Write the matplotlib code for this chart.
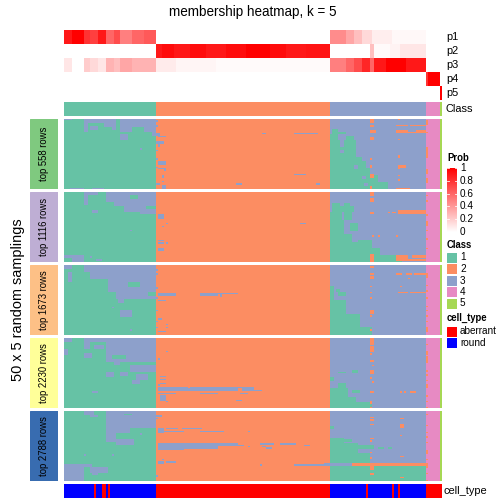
import numpy as np
import matplotlib
matplotlib.use('Agg')
import matplotlib.pyplot as plt
from matplotlib.colors import ListedColormap, LinearSegmentedColormap

plt.rcParams['font.family'] = ['Liberation Sans', 'DejaVu Sans']

# ---------------- data ----------------
title = "membership heatmap, k = 5"
side_title = "50 x 5 random samplings"
classes = [1, 2, 3, 4, 5]
class_sizes = [46, 87, 48, 7, 1]
class_colors = ['#66C2A5', '#FC8D62', '#8DA0CB', '#E78AC3', '#A6D854']
slice_labels = ['top 558 rows', 'top 1116 rows', 'top 1673 rows', 'top 2230 rows', 'top 2788 rows']
slice_colors = ['#7FC97F', '#BEAED4', '#FDC086', '#FFFF99', '#386CB0']
n_samplings = 50
prob_rows = ['p1', 'p2', 'p3', 'p4', 'p5']
prob_ticks = [0, 0.2, 0.4, 0.6, 0.8, 1]
prob_tick_labels = ['0', '0.2', '0.4', '0.6', '0.8', '1']

# membership probabilities as runs of (number of samples, value), samples ordered by class
p1_runs = [(4, 0.9), (6, 1.0), (3, 0.8), (4, 0.75), (4, 0.9), (4, 0.6), (3, 0.7), (6, 0.5), (6, 0.6), (6, 0.65),
           (87, 0.0),
           (8, 0.45), (4, 0.35), (4, 0.25), (5, 0.15), (10, 0.07), (17, 0.03),
           (7, 0.0), (1, 0.0)]
p2_runs = [(46, 0.0),
           (3, 0.9), (6, 0.95), (8, 0.9), (8, 0.95), (10, 0.9), (10, 0.95), (12, 1.0), (8, 0.95), (10, 0.9), (12, 0.92),
           (20, 0.0), (2, 0.25), (8, 0.02), (5, 0.05), (13, 0.1),
           (7, 0.0), (1, 0.0)]
p3_runs = [(4, 0.1), (6, 0.0), (3, 0.2), (4, 0.15), (4, 0.1), (4, 0.3), (3, 0.25), (6, 0.35), (6, 0.3), (6, 0.3),
           (10, 0.08), (20, 0.04), (57, 0.02),
           (8, 0.5), (4, 0.6), (4, 0.7), (4, 0.85), (2, 0.6), (6, 0.9), (10, 1.0), (10, 0.9),
           (7, 0.0), (1, 0.0)]
p4_runs = [(181, 0.0), (1, 0.8), (6, 1.0), (1, 0.0)]
p5_runs = [(188, 0.0), (1, 1.0)]

cell_type_names = ['aberrant', 'round']
cell_type_colors = ['#FF0000', '#0000FF']
cell_type_runs = [('round', 15), ('aberrant', 1), ('round', 3), ('aberrant', 2), ('round', 1), ('aberrant', 1),
                  ('round', 23), ('aberrant', 87), ('round', 18), ('aberrant', 1), ('round', 12), ('aberrant', 1),
                  ('round', 2), ('aberrant', 1), ('round', 13), ('aberrant', 8)]

# per sampling slice: deviations from consensus class (row0, row1, sample0, sample1, class)
slice1_changes = [
    (0, 1, 0, 4, 3), (0, 3, 10, 20, 3), (2, 9, 10, 12, 3), (5, 8, 13, 17, 3),
    (0, 6, 20, 26, 3), (6, 8, 24, 26, 3), (0, 6, 28, 46, 3), (6, 9, 28, 34, 3), (6, 9, 40, 46, 3),
    (11, 15, 28, 32, 3), (9, 12, 44, 46, 3), (21, 22, 38, 39, 3), (49, 50, 3, 10, 3), (49, 50, 14, 20, 3),
    (1, 2, 46, 47, 3), (4, 6, 46, 47, 3), (10, 12, 46, 48, 3), (12, 13, 47, 51, 3), (16, 18, 46, 50, 3),
    (18, 20, 47, 48, 3), (22, 23, 46, 47, 3), (28, 29, 46, 47, 3), (30, 33, 47, 51, 3), (34, 35, 46, 47, 3),
    (35, 36, 47, 51, 3), (36, 37, 50, 51, 3), (40, 42, 49, 50, 3), (44, 45, 49, 50, 3), (46, 47, 46, 48, 3),
    (47, 50, 49, 51, 3), (10, 11, 99, 101, 3), (10, 11, 115, 127, 3), (39, 40, 115, 121, 3),
    (46, 47, 86, 89, 3), (46, 47, 126, 128, 3),
    (7, 9, 134, 137, 1), (9, 11, 134, 141, 1), (11, 15, 133, 137, 1), (12, 15, 141, 145, 1),
    (15, 20, 133, 138, 1), (15, 20, 140, 146, 1), (20, 27, 133, 146, 1), (27, 30, 133, 149, 1),
    (30, 35, 133, 151, 1), (35, 40, 133, 153, 1), (40, 45, 133, 157, 1), (45, 50, 133, 162, 1),
    (22, 24, 138, 140, 3), (33, 36, 145, 147, 3), (41, 43, 149, 151, 3), (46, 48, 150, 152, 3),
    (0, 3, 153, 155, 2), (4, 6, 153, 155, 2), (8, 10, 153, 156, 2), (13, 15, 153, 155, 2), (28, 29, 153, 154, 2),
    (33, 35, 153, 154, 2), (39, 42, 153, 155, 2), (48, 50, 153, 154, 2),
    (0, 1, 167, 168, 2), (4, 5, 166, 172, 2), (4, 5, 173, 181, 2), (8, 10, 166, 172, 2), (8, 10, 176, 181, 2),
    (9, 10, 172, 176, 2), (14, 15, 167, 168, 2), (26, 28, 167, 168, 2), (33, 35, 167, 171, 2),
    (35, 36, 167, 168, 2), (40, 41, 167, 168, 2), (43, 44, 167, 168, 2), (49, 50, 166, 173, 2),
    (1, 4, 181, 182, 2), (9, 10, 181, 182, 2), (20, 28, 181, 182, 2), (36, 39, 181, 182, 2), (42, 46, 181, 182, 2),
]
slice2_changes = [
    (0, 2, 10, 17, 3), (0, 7, 21, 46, 3), (2, 5, 33, 37, 1), (7, 10, 25, 46, 3), (10, 14, 30, 41, 3),
    (12, 16, 38, 46, 3), (2, 9, 10, 12, 3), (13, 15, 14, 17, 3), (27, 28, 33, 34, 3), (45, 47, 0, 4, 3),
    (45, 50, 4, 10, 3), (46, 47, 13, 14, 3), (48, 49, 16, 19, 3),
    (16, 19, 47, 50, 3), (22, 23, 51, 52, 3), (24, 25, 49, 50, 3), (34, 35, 47, 50, 3), (36, 37, 47, 50, 3),
    (36, 37, 51, 52, 3), (40, 42, 47, 50, 3), (22, 23, 118, 121, 3),
    (8, 10, 134, 138, 1), (8, 10, 140, 143, 1), (10, 14, 134, 145, 1), (14, 20, 133, 139, 1), (14, 20, 140, 144, 1),
    (20, 30, 133, 140, 1), (22, 28, 143, 147, 1), (30, 36, 133, 144, 1), (36, 40, 133, 148, 1),
    (34, 40, 147, 154, 1), (40, 45, 133, 158, 1), (45, 50, 133, 169, 1),
    (0, 3, 153, 155, 2), (4, 7, 153, 155, 2), (14, 16, 153, 155, 2), (14, 15, 162, 163, 2), (14, 15, 164, 166, 2),
    (13, 16, 167, 181, 2), (31, 32, 154, 155, 2), (31, 32, 157, 158, 2), (31, 32, 166, 167, 2),
    (44, 50, 153, 155, 2), (45, 49, 166, 172, 2), (45, 47, 174, 181, 2), (48, 49, 172, 181, 2),
    (2, 3, 181, 182, 2), (6, 7, 181, 182, 2), (16, 17, 181, 182, 2), (21, 24, 181, 182, 2), (27, 28, 181, 182, 2),
    (33, 34, 181, 182, 2), (40, 41, 181, 182, 2),
]
slice3_changes = [
    (0, 3, 0, 4, 3), (0, 5, 10, 46, 3), (5, 10, 13, 46, 3), (10, 19, 22, 46, 3), (12, 16, 32, 38, 1),
    (19, 24, 26, 42, 3), (24, 27, 27, 30, 3), (22, 24, 42, 46, 3), (5, 12, 2, 4, 3), (30, 31, 24, 25, 3),
    (32, 37, 28, 34, 3), (46, 47, 33, 34, 3),
    (3, 4, 46, 47, 3), (6, 7, 46, 47, 3), (16, 17, 46, 47, 3), (20, 22, 47, 56, 3), (20, 22, 68, 77, 3),
    (20, 21, 77, 87, 3), (21, 23, 78, 79, 3), (23, 24, 46, 47, 3), (25, 26, 47, 51, 3), (32, 33, 46, 47, 3),
    (38, 39, 47, 49, 3), (40, 41, 46, 47, 3), (42, 43, 51, 52, 3), (44, 45, 46, 47, 3), (44, 45, 51, 52, 3),
    (47, 48, 47, 51, 3),
    (15, 28, 133, 135, 1), (17, 19, 136, 138, 1), (19, 22, 137, 141, 1), (25, 35, 133, 141, 1),
    (35, 44, 133, 148, 1), (44, 50, 133, 154, 1),
    (1, 2, 153, 155, 2), (6, 7, 153, 155, 2), (8, 10, 153, 155, 2), (15, 16, 153, 154, 2), (19, 20, 153, 154, 2),
    (23, 24, 153, 154, 2), (32, 35, 153, 155, 2), (36, 37, 153, 154, 2), (46, 47, 153, 154, 2),
    (6, 7, 166, 169, 2), (6, 7, 171, 174, 2), (6, 7, 175, 181, 2), (9, 10, 172, 173, 2), (15, 16, 168, 169, 2),
    (19, 20, 167, 172, 2), (19, 20, 173, 181, 2),
    (6, 9, 181, 182, 2), (14, 15, 181, 182, 2), (18, 19, 181, 182, 2), (23, 24, 181, 182, 2), (29, 30, 181, 182, 2),
    (32, 33, 181, 182, 2), (36, 37, 181, 182, 2), (40, 41, 181, 182, 2), (44, 48, 181, 182, 2),
]
slice4_changes = [
    (0, 3, 0, 4, 3), (0, 3, 10, 46, 3), (3, 8, 10, 13, 3), (3, 8, 21, 46, 3), (5, 8, 15, 20, 3),
    (8, 17, 21, 46, 3), (12, 15, 24, 31, 1), (17, 19, 25, 28, 3), (19, 24, 33, 46, 3), (24, 28, 21, 25, 3),
    (24, 27, 28, 32, 3), (26, 30, 36, 42, 3), (30, 33, 34, 38, 3), (8, 12, 0, 2, 3), (11, 14, 10, 14, 3),
    (38, 39, 14, 17, 3),
    (9, 10, 51, 52, 3), (14, 16, 47, 48, 3), (27, 28, 48, 51, 3), (29, 30, 48, 51, 3), (32, 33, 48, 51, 3),
    (33, 34, 47, 48, 3), (35, 38, 47, 62, 3), (35, 38, 63, 87, 3), (36, 38, 62, 63, 3), (35, 36, 87, 89, 3),
    (35, 38, 89, 95, 3), (37, 38, 95, 99, 3), (39, 40, 47, 56, 3), (39, 40, 68, 77, 3), (39, 40, 88, 92, 3),
    (41, 45, 48, 51, 3), (44, 45, 86, 89, 3), (45, 46, 51, 52, 3),
    (24, 25, 137, 141, 1), (23, 25, 144, 147, 1), (28, 31, 133, 135, 1), (32, 36, 137, 141, 1),
    (36, 46, 133, 142, 1), (37, 39, 144, 148, 1), (42, 46, 142, 146, 1), (46, 50, 133, 154, 1),
    (0, 5, 153, 155, 2), (6, 10, 153, 155, 2), (11, 12, 153, 154, 2), (16, 17, 153, 155, 2), (19, 20, 154, 155, 2),
    (23, 26, 153, 155, 2), (28, 29, 153, 154, 2), (31, 32, 154, 155, 2), (38, 39, 153, 155, 2),
    (45, 47, 153, 154, 2), (49, 50, 153, 154, 2), (38, 39, 168, 169, 2), (38, 39, 170, 171, 2),
    (38, 39, 173, 176, 2),
    (4, 5, 181, 182, 2), (9, 12, 181, 182, 2), (13, 18, 181, 182, 2), (23, 24, 181, 182, 2), (26, 27, 181, 182, 2),
    (30, 31, 181, 182, 2), (33, 36, 181, 182, 2), (41, 42, 181, 182, 2), (45, 46, 181, 182, 2), (49, 50, 181, 182, 2),
]
slice5_changes = [
    (0, 3, 10, 15, 3), (0, 9, 21, 46, 3), (0, 22, 21, 26, 3), (0, 12, 26, 46, 3), (2, 3, 30, 34, 1),
    (12, 16, 26, 33, 3), (20, 24, 26, 35, 3), (16, 17, 38, 39, 3), (3, 4, 13, 17, 3), (31, 32, 10, 11, 3),
    (31, 32, 24, 25, 3), (38, 40, 0, 14, 3), (40, 50, 0, 10, 3), (40, 44, 13, 22, 3), (44, 46, 14, 17, 3),
    (3, 4, 46, 49, 3), (5, 6, 46, 47, 3), (12, 16, 47, 50, 3), (12, 13, 51, 57, 3), (12, 13, 59, 69, 3),
    (14, 15, 50, 60, 3), (14, 15, 68, 80, 3), (14, 15, 92, 93, 3), (23, 25, 47, 87, 3), (25, 27, 47, 77, 3),
    (24, 25, 87, 90, 3), (23, 24, 98, 105, 3), (23, 24, 108, 116, 3), (24, 25, 120, 123, 3),
    (25, 26, 99, 101, 3), (26, 27, 101, 104, 3), (25, 26, 92, 93, 3), (27, 28, 47, 60, 3), (34, 35, 49, 50, 3),
    (36, 38, 47, 50, 3), (36, 37, 51, 56, 3), (38, 39, 98, 99, 3), (38, 39, 115, 133, 3), (46, 47, 46, 47, 3),
    (37, 39, 130, 133, 3),
    (11, 13, 133, 135, 1), (19, 23, 133, 140, 1), (20, 22, 140, 144, 1), (23, 30, 133, 147, 1),
    (24, 27, 147, 155, 1), (26, 27, 157, 160, 1), (26, 27, 162, 164, 1), (30, 37, 133, 153, 1),
    (39, 50, 133, 181, 1),
    (37, 39, 144, 181, 2), (4, 5, 153, 155, 2), (6, 7, 153, 155, 2), (9, 10, 153, 155, 2), (19, 20, 153, 155, 2),
    (21, 22, 153, 154, 2), (29, 30, 153, 154, 2), (33, 34, 153, 154, 2), (39, 42, 153, 155, 2),
    (44, 46, 153, 155, 2), (5, 6, 168, 170, 2), (9, 12, 168, 170, 2), (17, 18, 168, 169, 2),
    (32, 33, 168, 170, 2), (47, 48, 168, 170, 2),
    (2, 3, 181, 182, 2), (10, 11, 181, 182, 2), (15, 16, 181, 182, 2), (18, 19, 181, 182, 2), (22, 23, 181, 182, 2),
    (28, 31, 181, 182, 2), (34, 35, 181, 182, 2), (37, 41, 181, 182, 2), (44, 45, 181, 182, 2), (49, 50, 181, 182, 2),
]
slice_changes = [slice1_changes, slice2_changes, slice3_changes, slice4_changes, slice5_changes]


# ---------------- build matrices ----------------
def expand(runs):
    return np.concatenate([np.full(n, v, dtype=float) for n, v in runs])


consensus = np.repeat(classes, class_sizes)
n_samples = consensus.size
P = np.vstack([expand(r) for r in (p1_runs, p2_runs, p3_runs, p4_runs, p5_runs)])
ct = np.concatenate([np.full(n, cell_type_names.index(name)) for name, n in cell_type_runs])

slices = []
for changes in slice_changes:
    M = np.tile(consensus, (n_samplings, 1))
    for r0, r1, c0, c1, k in changes:
        M[r0:r1, c0:c1] = k
    slices.append(M)

class_cmap = ListedColormap(class_colors)
prob_cmap = LinearSegmentedColormap.from_list('prob', ['#FFFFFF', '#FF0000'])
ct_cmap = ListedColormap(cell_type_colors)

# ---------------- layout (pixels) ----------------
W = H = 504
fig = plt.figure(figsize=(W / 72, H / 72), dpi=72)


def add_ax(x0, y0, x1, y1):
    ax = fig.add_axes([x0 / W, 1 - y1 / H, (x1 - x0) / W, (y1 - y0) / H])
    ax.set_axis_off()
    return ax


def txt(x, y, s, **kw):
    fig.text(x / W, 1 - y / H, s, **kw)


HX0, HX1 = 64, 442

# probability annotation
ax = add_ax(HX0, 30, HX1, 100)
ax.imshow(P, cmap=prob_cmap, vmin=0, vmax=1, aspect='auto', interpolation='nearest')
for i, name in enumerate(prob_rows):
    txt(446, 37 + 14 * i, name, fontsize=11, va='center', ha='left')

# class annotation
ax = add_ax(HX0, 101.7, HX1, 115.7)
ax.imshow(consensus[None, :], cmap=class_cmap, vmin=0.5, vmax=5.5, aspect='auto', interpolation='nearest')
txt(446, 108.7, 'Class', fontsize=11, va='center', ha='left')

# membership slices
slice_tops = [119, 192, 265, 338, 411]
slice_h = 70
for M, top, lab, col in zip(slices, slice_tops, slice_labels, slice_colors):
    ax = add_ax(HX0, top, HX1, top + slice_h)
    ax.imshow(M, cmap=class_cmap, vmin=0.5, vmax=5.5, aspect='auto', interpolation='nearest')
    lax = add_ax(30, top, 58, top + slice_h)
    lax.set_xlim(0, 1)
    lax.set_ylim(0, 1)
    lax.add_patch(plt.Rectangle((0, 0), 1, 1, color=col))
    lax.text(0.5, 0.5, lab, rotation=90, ha='center', va='center', fontsize=9.5)

txt(18, 300, side_title, rotation=90, ha='center', va='center', fontsize=14.5)

# cell type annotation
ax = add_ax(HX0, 484, HX1, 498)
ax.imshow(ct[None, :], cmap=ct_cmap, vmin=-0.5, vmax=1.5, aspect='auto', interpolation='nearest')
txt(444, 491, 'cell_type', fontsize=11, va='center', ha='left')

# title
txt((HX0 + HX1) / 2, 12, title, fontsize=13.5, ha='center', va='center')

# ---------------- legends ----------------
LX = 447
txt(LX, 158, 'Prob', fontsize=9.5, fontweight='bold', va='center', ha='left')
cb_top, cb_bot = 168, 232
cax = add_ax(LX, cb_top, LX + 10, cb_bot)
cax.imshow(np.linspace(1, 0, 256)[:, None], cmap=prob_cmap, vmin=0, vmax=1, aspect='auto',
           extent=(0, 1, 0, 1))
cax.set_xlim(0, 1)
cax.set_ylim(0, 1)
for v, lab in zip(prob_ticks, prob_tick_labels):
    cax.plot([0, 0.2], [v, v], color='white', lw=0.8)
    cax.plot([0.8, 1], [v, v], color='white', lw=0.8)
    txt(LX + 13, cb_bot - v * (cb_bot - cb_top), lab, fontsize=10, va='center', ha='left')

txt(LX, 245, 'Class', fontsize=9.5, fontweight='bold', va='center', ha='left')
for i, (k, c) in enumerate(zip(classes, class_colors)):
    y0 = 252.5 + 11.5 * i
    bax = add_ax(LX, y0, LX + 10, y0 + 10)
    bax.set_xlim(0, 1)
    bax.set_ylim(0, 1)
    bax.add_patch(plt.Rectangle((0, 0), 1, 1, color=c))
    txt(LX + 13, y0 + 5, str(k), fontsize=10, va='center', ha='left')

txt(LX, 318, 'cell_type', fontsize=9.5, fontweight='bold', va='center', ha='left')
for i, (name, c) in enumerate(zip(cell_type_names, cell_type_colors)):
    y0 = 326.5 + 11.5 * i
    bax = add_ax(LX, y0, LX + 10, y0 + 10)
    bax.set_xlim(0, 1)
    bax.set_ylim(0, 1)
    bax.add_patch(plt.Rectangle((0, 0), 1, 1, color=c))
    txt(LX + 13, y0 + 5, name, fontsize=10, va='center', ha='left')

fig.savefig('out.png', dpi=72)
